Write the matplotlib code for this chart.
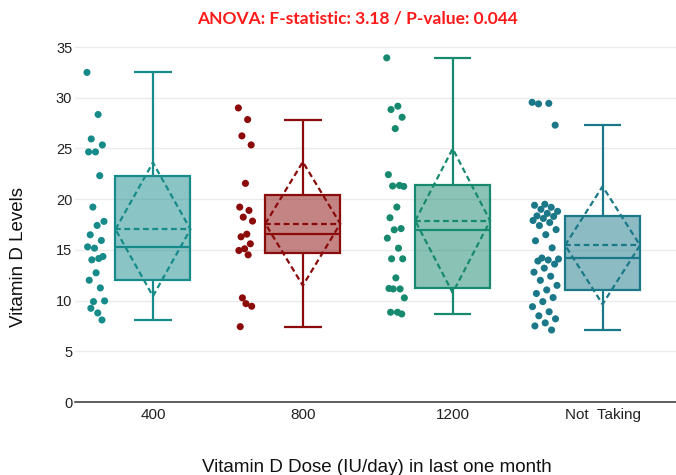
import matplotlib

matplotlib.use("Agg")
import matplotlib.pyplot as plt
import numpy as np
from matplotlib.colors import to_rgba

# Vitamin D levels by supplement dose (IU/day) over the last month
dose_labels = ["400", "800", "1200", "Not  Taking"]

vit_400 = [32.5, 28.35, 25.94, 25.35, 24.66, 24.66, 22.32, 19.22, 17.81, 17.41,
           16.49, 15.93, 15.17, 15.30, 14.15, 14.02, 14.35, 12.74, 12.01, 11.25,
           9.90, 9.97, 8.78, 9.24, 8.09]
vit_800 = [29.0, 27.85, 26.24, 25.35, 21.56, 19.22, 18.89, 18.23, 17.84, 16.55,
           16.29, 15.60, 15.11, 14.94, 14.51, 10.27, 9.44, 9.70, 7.43]
vit_1200 = [33.94, 29.17, 28.84, 28.08, 26.96, 22.42, 21.36, 21.30, 21.26, 19.22,
            18.17, 17.10, 16.98, 16.16, 15.17, 14.12, 14.12, 12.24, 11.20, 11.15,
            11.15, 10.27, 8.85, 8.85, 8.68]
vit_none = [29.55, 29.45, 29.40, 27.3, 19.5, 19.4, 19.2, 19.0, 18.8, 18.6,
            18.35, 18.3, 18.1, 17.9, 17.7, 17.4, 17.0, 16.5, 15.9, 15.2,
            14.2, 14.1, 14.0, 13.9, 13.6, 13.2, 12.8, 12.4, 12.0, 11.5,
            11.05, 10.7, 10.3, 9.9, 9.4, 8.9, 8.5, 8.2, 7.8, 7.5, 7.1]

groups = [vit_400, vit_800, vit_1200, vit_none]
colors = ["#178a8a", "#8b0a0a", "#17896f", "#1a7888"]
spread = [0.06, 0.05, 0.06, 0.09]

fig = plt.figure(figsize=(6.76, 4.75), dpi=100)
ax = fig.add_axes([75 / 676, 73 / 475, 601 / 676, 360 / 475])

dash = (0, (2.6, 1.6))
lw = 1.6
for i, (vals, col) in enumerate(zip(groups, colors)):
    vals = np.asarray(vals, dtype=float)
    bp = ax.boxplot(vals, positions=[i], widths=0.5, whis=1.5, showfliers=False,
                    patch_artist=True, capwidths=0.25, manage_ticks=False)
    for b in bp["boxes"]:
        b.set_facecolor(to_rgba(col, 0.5))
        b.set_edgecolor(col)
        b.set_linewidth(lw)
    for part in ("whiskers", "caps", "medians"):
        for ln in bp[part]:
            ln.set_color(col)
            ln.set_linewidth(lw)
            ln.set_solid_capstyle("butt")

    # mean line and mean +/- sd diamond
    m, sd = vals.mean(), vals.std()
    ax.plot([i - 0.25, i + 0.25], [m, m], ls=dash, color=col, lw=lw)
    ax.plot([i - 0.25, i, i + 0.25, i, i - 0.25], [m, m + sd, m, m - sd, m],
            ls=dash, color=col, lw=lw)

    # all points, jittered to the left of each box
    k = np.arange(len(vals))
    offs = ((k * 0.618034) % 1 - 0.5) * 2 * spread[i]
    ax.scatter(i - 0.38 + offs, vals, s=26, color=col, edgecolor="none", zorder=3)

ax.set_xlim(-0.52, 3.49)
ax.set_ylim(0, 35.5)
ax.set_xticks(range(len(dose_labels)))
ax.set_xticklabels(dose_labels, family="Liberation Sans", fontsize=11, color="#222")
ax.set_yticks(range(0, 36, 5))
ax.set_yticklabels([str(v) for v in range(0, 36, 5)], family="Liberation Sans",
                   fontsize=10.5, color="#222")
ax.tick_params(length=0, pad=4)
ax.tick_params(axis="y", pad=2)
ax.grid(axis="y", color="#ebebeb", lw=1)
ax.set_axisbelow(True)
for s in ("left", "right", "top"):
    ax.spines[s].set_visible(False)
ax.spines["bottom"].set_color("#444")
ax.spines["bottom"].set_linewidth(1.2)

fig.text(377 / 676, 1 - 467 / 475, "Vitamin D Dose (IU/day) in last one month",
         family="Liberation Sans", fontsize=13.5, ha="center", va="center", color="#111")
fig.text(19 / 676, 1 - 257 / 475, "Vitamin D Levels", family="Liberation Sans",
         fontsize=13.5, rotation=90, ha="center", va="center", color="#111")
fig.text(357 / 676, 1 - 18 / 475, "ANOVA: F-statistic: 3.18 / P-value: 0.044",
         family="Lato", weight="bold", fontsize=12.5, color="#ff1a1a",
         ha="center", va="center")

fig.savefig("out.png", dpi=100)
